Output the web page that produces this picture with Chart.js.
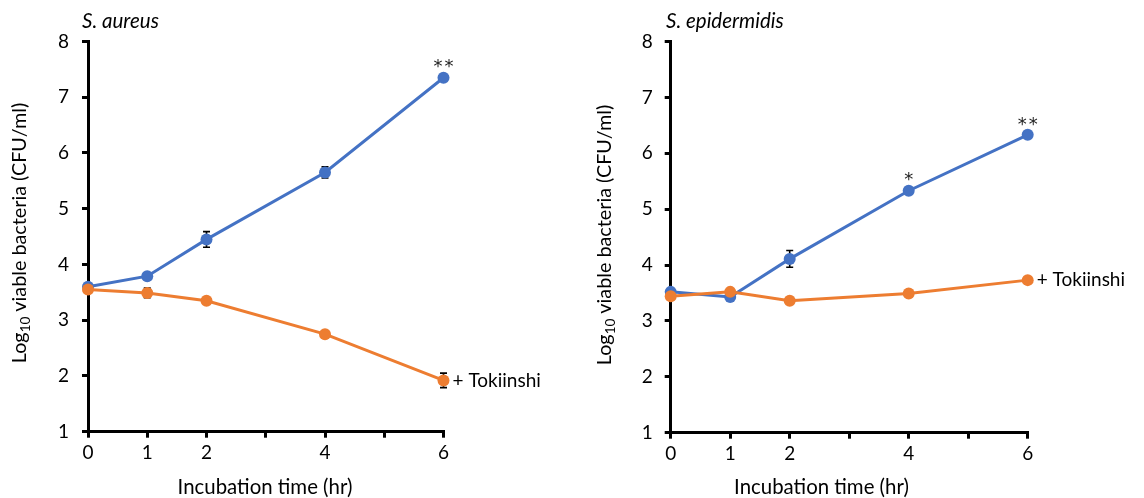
<!DOCTYPE html>
<html>
<head>
<meta charset="utf-8">
<script src="https://cdn.jsdelivr.net/npm/chart.js@4.4.1/dist/chart.umd.min.js"></script>
<style>
  html, body { margin: 0; padding: 0; background: #fff; }
  #wrap { position: relative; width: 1144px; height: 498px; }
  .panel { position: absolute; top: 0; width: 572px; height: 498px; }
</style>
</head>
<body>
<div id="wrap">
  <div class="panel" style="left:0"><canvas id="aureus"></canvas></div>
  <div class="panel" style="left:572px"><canvas id="epi"></canvas></div>
</div>
<script>
// ── data (log10 CFU/ml) ─────────────────────────────────────────────────────
const hours = [0, 1, 2, 4, 6];
const xTickLabels = ["0", "1", "2", "", "4", "", "6"];   // index = hour
const yTicks = [1, 2, 3, 4, 5, 6, 7, 8];

const aureusCtrl    = [3.60, 3.79, 4.45, 5.65, 7.35];
const aureusCtrlErr = [0.03, 0.04, 0.14, 0.10, 0.03];
const aureusTok     = [3.55, 3.49, 3.35, 2.75, 1.92];
const aureusTokErr  = [0.03, 0.085, 0.03, 0.03, 0.13];
const aureusSig     = ["", "", "", "", "**"];

const epiCtrl    = [3.52, 3.43, 4.11, 5.33, 6.33];
const epiCtrlErr = [0.03, 0.03, 0.15, 0.04, 0.03];
const epiTok     = [3.44, 3.52, 3.36, 3.49, 3.73];
const epiTokErr  = [0.03, 0.03, 0.03, 0.03, 0.03];
const epiSig     = ["", "", "", "*", "**"];

const BLUE = "#4472C4", ORANGE = "#ED7D31";
const FONT = "Lato, 'Open Sans', sans-serif";

const pts = (ys) => hours.map((h, i) => ({ x: h, y: ys[i] }));

// extra drawing: error bars, asterisks, labels, titles
const deco = {
  id: "deco",
  beforeDatasetsDraw(chart, args, o) {
    const { ctx, scales: { x, y } } = chart;
    ctx.save();
    ctx.strokeStyle = "#000";
    ctx.lineWidth = 1.6;
    o.errors.forEach((errs, di) => {
      const d = chart.data.datasets[di].data;
      errs.forEach((e, i) => {
        const px = x.getPixelForValue(d[i].x);
        const t = y.getPixelForValue(d[i].y + e), b = y.getPixelForValue(d[i].y - e);
        ctx.beginPath();
        ctx.moveTo(px, t); ctx.lineTo(px, b);
        ctx.moveTo(px - 3.5, t); ctx.lineTo(px + 3.5, t);
        ctx.moveTo(px - 3.5, b); ctx.lineTo(px + 3.5, b);
        ctx.stroke();
      });
    });
    ctx.restore();
  },
  afterDatasetsDraw(chart, args, o) {
    const { ctx, scales: { x, y } } = chart;
    ctx.save();
    ctx.fillStyle = "#222";
    ctx.textAlign = "center";
    ctx.textBaseline = "middle";
    ctx.font = "18px 'DejaVu Sans', sans-serif";
    ctx.letterSpacing = "2px";
    const ctrl = chart.data.datasets[1].data;
    o.sig.forEach((s, i) => {
      if (!s) return;
      ctx.fillText(s, x.getPixelForValue(ctrl[i].x) + 1, y.getPixelForValue(ctrl[i].y) - 10);
    });
    ctx.letterSpacing = "0px";
    const tok = chart.data.datasets[0].data;
    const last = tok[tok.length - 1];
    ctx.fillStyle = "#000";
    ctx.textAlign = "left";
    ctx.font = `19px ${FONT}`;
    ctx.fillText(o.seriesLabel, x.getPixelForValue(last.x) + 9, y.getPixelForValue(last.y));
    ctx.restore();
  },
  afterDraw(chart, args, o) {
    const { ctx } = chart;
    ctx.save();
    ctx.fillStyle = "#000";
    ctx.textBaseline = "middle";
    // panel title
    ctx.textAlign = "left";
    ctx.font = `italic 20.5px ${FONT}`;
    ctx.fillText(o.title, o.titleX, 21);
    // x title
    ctx.textAlign = "center";
    ctx.font = `20.4px ${FONT}`;
    ctx.fillText("Incubation time (hr)", o.xTitleX, 487);
    // y title with subscript
    ctx.translate(o.yTitleX, o.yTitleY);
    ctx.rotate(-Math.PI / 2);
    ctx.textAlign = "left";
    ctx.textBaseline = "middle";
    const big = `19.8px ${FONT}`, small = `13.5px ${FONT}`;
    ctx.font = big; const w1 = ctx.measureText("Log").width, w3 = ctx.measureText(" viable bacteria (CFU/ml)").width;
    ctx.font = small; const w2 = ctx.measureText("10").width;
    let sx = -(w1 + w2 + w3) / 2;
    ctx.font = big; ctx.fillText("Log", sx, 0); sx += w1;
    ctx.font = small; ctx.fillText("10", sx, 6); sx += w2;
    ctx.font = big; ctx.fillText(" viable bacteria (CFU/ml)", sx, 0);
    ctx.restore();
  },
};

function makeChart(id, tok, tokErr, ctrl, ctrlErr, sig, cfg) {
  return new Chart(document.getElementById(id), {
    type: "line",
    data: {
      datasets: [
        { data: pts(tok), borderColor: ORANGE, backgroundColor: ORANGE, borderWidth: 3, clip: false,
          pointRadius: 6, pointHoverRadius: 6, pointBorderWidth: 0, tension: 0 },
        { data: pts(ctrl), borderColor: BLUE, backgroundColor: BLUE, borderWidth: 3, clip: false,
          pointRadius: 6, pointHoverRadius: 6, pointBorderWidth: 0, tension: 0 },
      ],
    },
    options: {
      responsive: true, maintainAspectRatio: false, animation: false,
      layout: { padding: { left: 0, top: 41.5, right: cfg.padRight, bottom: 0 } },
      scales: {
        x: {
          type: "linear", min: 0, max: 6,
          afterFit: (s) => { s.height = cfg.xHeight; },
          ticks: { stepSize: 1, autoSkip: false, maxRotation: 0, padding: 4, color: "#000",
            font: { family: FONT, size: 19 }, callback: (v) => xTickLabels[v] ?? "" },
          grid: { drawOnChartArea: false, drawTicks: true, tickLength: 6, color: "#000", lineWidth: 3 },
          border: { color: "#000", width: 3 },
        },
        y: {
          min: 1, max: 8,
          afterFit: (s) => { s.width = cfg.yWidth; },
          afterBuildTicks: (s) => { s.ticks = yTicks.map((v) => ({ value: v })); },
          ticks: { padding: cfg.yPad, color: "#000", font: { family: FONT, size: 19 } },
          grid: { drawOnChartArea: false, drawTicks: true, tickLength: 6, color: "#000", lineWidth: 3 },
          border: { color: "#000", width: 3 },
        },
      },
      plugins: {
        legend: { display: false },
        tooltip: { enabled: false },
        deco: { errors: [tokErr, ctrlErr], sig, seriesLabel: "+ Tokiinshi",
          title: cfg.title, titleX: cfg.titleX, xTitleX: cfg.xTitleX, yTitleX: cfg.yTitleX, yTitleY: cfg.yTitleY },
      },
    },
    plugins: [deco],
  });
}

makeChart("aureus", aureusTok, aureusTokErr, aureusCtrl, aureusCtrlErr, aureusSig,
  { title: "S. aureus", titleX: 82, padRight: 128.5, xHeight: 66.3, yWidth: 88, yPad: 13,
    xTitleX: 265, yTitleX: 20, yTitleY: 233 });
makeChart("epi", epiTok, epiTokErr, epiCtrl, epiCtrlErr, epiSig,
  { title: "S. epidermidis", titleX: 94, padRight: 116.3, xTitleX: 249.5, xHeight: 65.3, yWidth: 98.7, yPad: 12,
    yTitleX: 33, yTitleY: 235 });
</script>
</body>
</html>
